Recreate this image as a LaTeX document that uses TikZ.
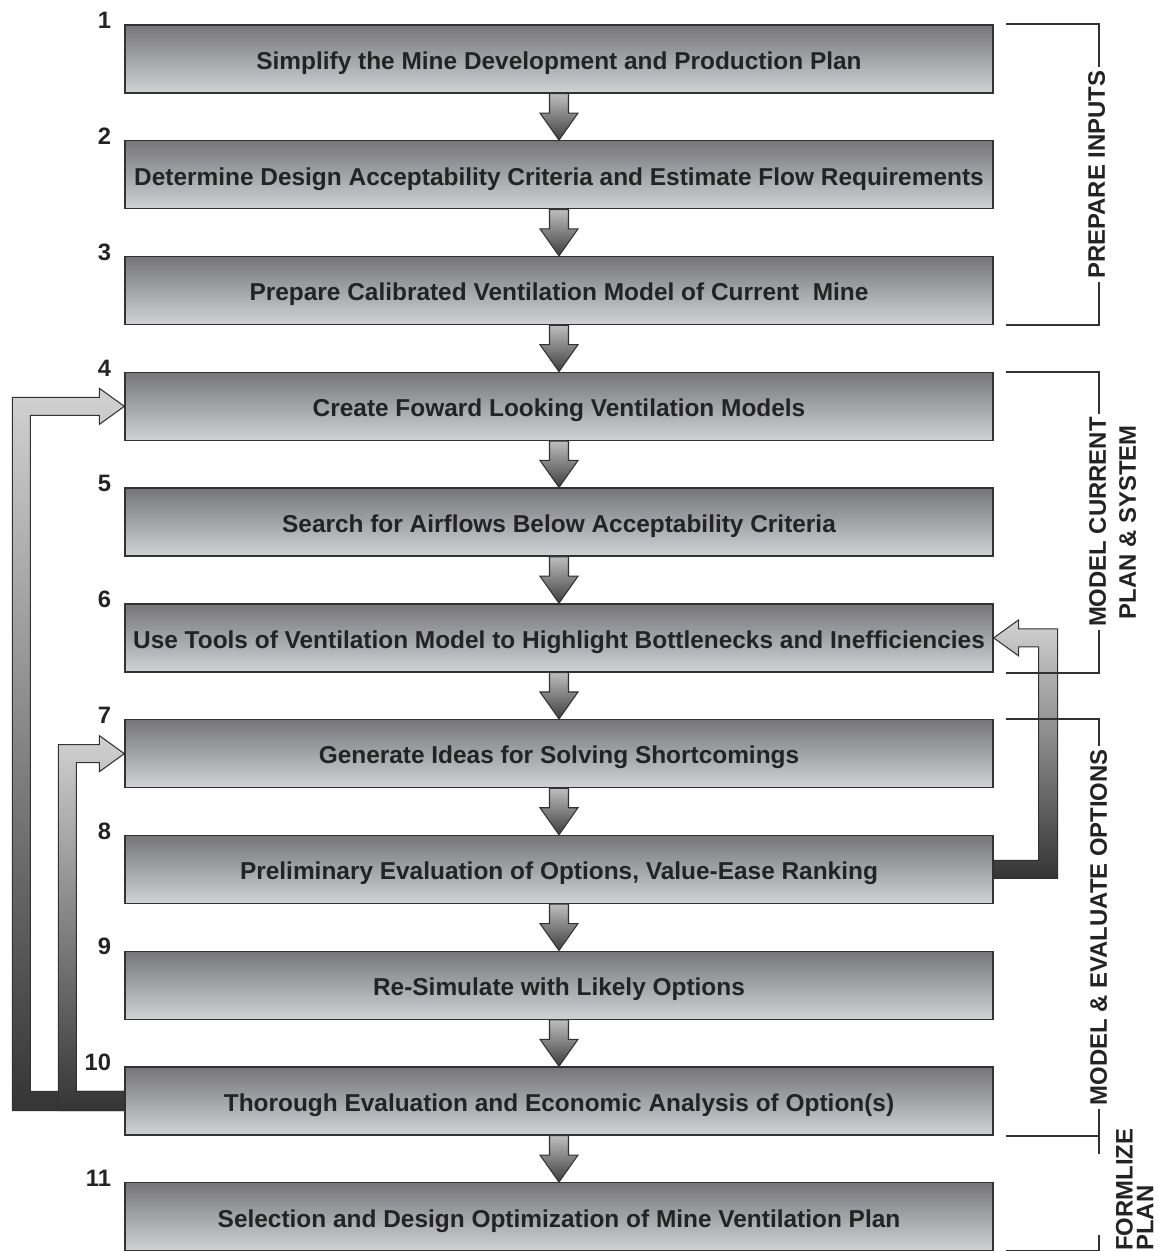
\documentclass[tikz,border=0pt]{standalone}
\usepackage{fontspec}
\setmainfont{Liberation Sans}
\usetikzlibrary{positioning,calc}

\definecolor{boxtop}{RGB}{118,118,122}
\definecolor{boxbot}{RGB}{208,210,213}
\definecolor{arrtop}{RGB}{190,190,190}
\definecolor{arrbot}{RGB}{62,62,62}
\definecolor{edge}{RGB}{50,50,50}
\definecolor{ink}{RGB}{35,35,35}

\tikzset{
  stepbox/.style={draw=edge, line width=0.8pt, top color=boxtop, bottom color=boxbot,
    minimum width=17.36cm, minimum height=1.36cm, inner sep=0pt, text=ink,
    text height=0.5cm, text depth=0.088cm,
    font=\bfseries\fontsize{13.9pt}{16pt}\selectfont},
  stepnum/.style={anchor=south east, inner sep=0pt, text=ink,
    font=\bfseries\fontsize{13.5pt}{16pt}\selectfont},
  downarr/.style={draw=edge, line width=0.6pt, top color=arrtop, bottom color=arrbot},
  backarr/.style={draw=edge, line width=0.6pt, top color=arrtop!70!white, bottom color=arrbot!85!black},
  brk/.style={draw=edge, line width=1.1pt},
  phase/.style={rotate=90, fill=white, inner sep=2pt, align=center, text=ink,
    font=\bfseries\fontsize{13.6pt}{17pt}\selectfont}
}

\begin{document}
\begin{tikzpicture}[x=0.02cm, y=0.02cm, node distance=2.316cm, on grid]
\useasboundingbox (0,0) rectangle (1157,-1251);

\node[stepbox] (b1) at (559,-59) {Simplify the Mine Development and Production Plan};
\node[stepbox] (b2) [below=of b1] {Determine Design Acceptability Criteria and Estimate Flow Requirements};
\node[stepbox] (b3) [below=of b2] {Prepare Calibrated Ventilation Model of Current\ \ Mine};
\node[stepbox] (b4) [below=of b3] {Create Foward Looking Ventilation Models};
\node[stepbox] (b5) [below=of b4] {Search for Airflows Below Acceptability Criteria};
\node[stepbox] (b6) [below=of b5] {Use Tools of Ventilation Model to Highlight Bottlenecks and Inefficiencies};
\node[stepbox] (b7) [below=of b6] {Generate Ideas for Solving Shortcomings};
\node[stepbox] (b8) [below=of b7] {Preliminary Evaluation of Options, Value-Ease Ranking};
\node[stepbox] (b9) [below=of b8] {Re-Simulate with Likely Options};
\node[stepbox] (b10) [below=of b9] {Thorough Evaluation and Economic Analysis of Option(s)};
\node[stepbox] (b11) [below=of b10] {Selection and Design Optimization of Mine Ventilation Plan};

% step numbers
\foreach \i in {1,...,11}
  \node[stepnum] (n\i) at ($(b\i.north west)+(-13,-5)$) {\i};

% flow arrows
\foreach \i [count=\j from 2] in {1,...,10}
  \path[downarr] ($(b\i.south)+(-9.5,0)$) -- ($(b\i.south)+(9.5,0)$) -- ($(b\j.north)+(9.5,27)$)
    -- ++(9.5,0) -- (b\j.north) -- ++(-19,27) -- ++(9.5,0) -- cycle;

% feedback loops
\path[backarr] ($(b10.west)+(0,-9.5)$) -- ++(-112,0) |- ($(b4.west)+(-25,9)$) -- ++(0,9)
  -- (b4.west) -- ++(-25,-18) -- ++(0,9) -- ++(-69,0) |- ($(b10.west)+(0,9.5)$) -- cycle;
\path[backarr] ($(b10.west)+(0,-9.5)$) -- ++(-66,0) |- ($(b7.west)+(-25,9)$) -- ++(0,9)
  -- (b7.west) -- ++(-25,-18) -- ++(0,9) -- ++(-23,0) |- ($(b10.west)+(0,9.5)$) -- cycle;
\path[backarr] ($(b8.east)+(0,-9)$) -- ++(64,0) |- ($(b6.east)+(25,9)$) -- ++(0,9)
  -- (b6.east) -- ++(25,-18) -- ++(0,9) -- ++(20,0) |- ($(b8.east)+(0,9)$) -- cycle;

% phase brackets
\draw[brk] ($(b1.north east)+(12,0)$) -- ++(93,0) |- ($(b3.south east)+(12,0)$);
\draw[brk] ($(b4.north east)+(12,0)$) -- ++(93,0) |- ($(b6.south east)+(12,0)$);
\draw[brk] ($(b7.north east)+(12,0)$) -- ++(93,0) |- ($(b10.south east)+(12,0)$);
\draw[brk] ($(b10.south east)+(105,0)$) -- ++(0,-18);
\draw[brk] ($(b11.south east)+(12,1)$) -| ++(93,15);

\node[phase] (p1) at ($(b1.north east)!.5!(b3.south east)+(103,0)$) {PREPARE INPUTS};
\node[phase] (p2) at ($(b4.north east)!.5!(b6.south east)+(119,0)$) {MODEL CURRENT\\PLAN \& SYSTEM};
\node[phase] (p3) at ($(b7.north east)!.5!(b10.south east)+(105,0)$) {MODEL \& EVALUATE OPTIONS};
\node[phase, fill=none, anchor=west, align=left, font=\bfseries\fontsize{13.6pt}{11.8pt}\selectfont]
  (p4) at ($(b11.south east)+(141,-3)$) {FORMLIZE\\PLAN};
\end{tikzpicture}
\end{document}
